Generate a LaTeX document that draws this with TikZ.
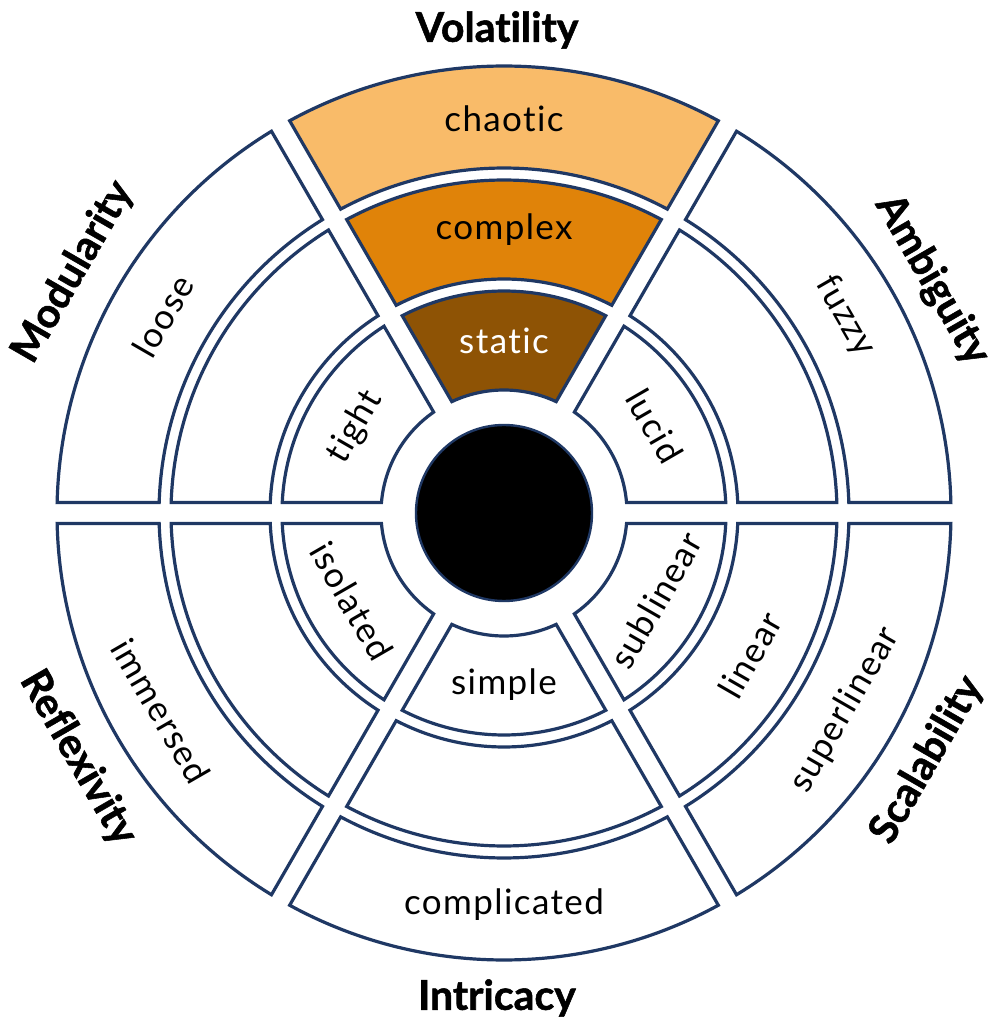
\documentclass[tikz,border=0pt]{standalone}
\usepackage{fontspec}
\setmainfont{Lato}[Ligatures=NoCommon]
\newfontfamily\segfont{Lato}[Ligatures=NoCommon, LetterSpace=4]
\newfontfamily\labelfont{Lato}[Ligatures=NoCommon, BoldFeatures={FakeBold=1.3}]
\definecolor{navy}{HTML}{1F3864}
\definecolor{chaoticc}{HTML}{F9BB69}
\definecolor{complexc}{HTML}{E08309}
\definecolor{staticc}{HTML}{8E5305}
\tikzset{
  segline/.style={draw=navy, line width=3.2pt, line join=miter},
  segtext/.style={font=\segfont\fontsize{35}{40}\selectfont, text=black, inner sep=0pt},
  dimlabel/.style={font=\labelfont\bfseries\fontsize{41}{46}\selectfont, inner sep=0pt}
}
\newcommand\gapw{10.5}
\newcommand\wseg[4]{%
  \pgfmathsetmacro\dIn{asin(\gapw/#2)}%
  \pgfmathsetmacro\dOut{asin(\gapw/#3)}%
  \pgfmathsetmacro\aA{#1-30+\dIn}%
  \pgfmathsetmacro\aB{#1-30+\dOut}%
  \pgfmathsetmacro\aC{#1+30-\dOut}%
  \pgfmathsetmacro\aD{#1+30-\dIn}%
  \path[segline, fill=#4] (\aA:#2pt) -- (\aB:#3pt)
    arc[start angle=\aB, end angle=\aC, radius=#3pt]
    -- (\aD:#2pt)
    arc[start angle=\aD, end angle=\aA, radius=#2pt] -- cycle;%
}
\begin{document}
\begin{tikzpicture}[x=1pt,y=1pt]
\useasboundingbox[fill=white] (-504,-512) rectangle (496,513);

% top sector (Volatility)
\wseg{90}{123}{222}{staticc}
\wseg{90}{234}{333}{complexc}
\wseg{90}{345}{447}{chaoticc}
% other sectors
\foreach \t in {30,-30,-90,210,150}{
  \wseg{\t}{123}{222}{white}
  \wseg{\t}{234}{333}{white}
  \wseg{\t}{345}{447}{white}
}

% core
\node[circle, fill=black, draw=navy, line width=2.4pt, minimum size=176pt, inner sep=0pt] (core) at (0,0) {};

% segment texts
\node[segtext] (chaotic) at (90:394pt) {chaotic};
\node[segtext] (complex) at (90:283pt) {complex};
\node[segtext, text=white] (static) at (90:172pt) {static};

\node[segtext, rotate=-60] (fuzzy) at (30:394pt) {fuzzy};
\node[segtext, rotate=-60] (lucid) at (30:174pt) {lucid};

\node[segtext, rotate=60] (superlinear) at (-30:394pt) {superlinear};
\node[segtext, rotate=60] (linear) at (-30:284pt) {linear};
\node[segtext, rotate=60] (sublinear) at (-30:175pt) {sublinear};

\node[segtext] (complicated) at (-90:392pt) {complicated};
\node[segtext] (simple) at (-90:172pt) {simple};

\node[segtext, rotate=-60] (immersed) at (210:396pt) {immersed};
\node[segtext, rotate=-60] (isolated) at (210:176pt) {isolated};

\node[segtext, rotate=60] (loose) at (150:394pt) {loose};
\node[segtext, rotate=60] (tight) at (150:172pt) {tight};

% dimension labels
\node[dimlabel] (volatility) at (-7,483) {Volatility};
\node[dimlabel] (intricacy) at (-7,-485) {Intricacy};
\node[dimlabel, rotate=-60] (ambiguity) at (428,233) {Ambiguity};
\node[dimlabel, rotate=60] (scalability) at (423,-247) {Scalability};
\node[dimlabel, rotate=60] (modularity) at (-431,241) {Modularity};
\node[dimlabel, rotate=-60] (reflexivity) at (-426,-245) {Reflexivity};
\end{tikzpicture}
\end{document}
